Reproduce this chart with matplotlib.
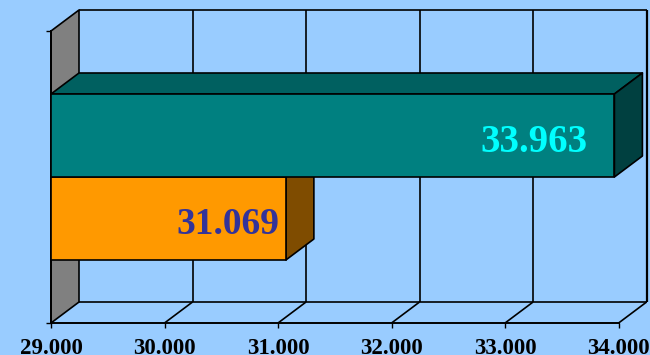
import matplotlib
matplotlib.use("Agg")
import matplotlib.pyplot as plt
from matplotlib.patches import Polygon

# values
values = [31069, 33963]
bar_colors = ["#FF9900", "#008080"]
top_colors = ["#7F4C00", "#006060"]
side_colors = ["#7F4C00", "#004040"]
label_colors = ["#333399", "#00FFFF"]
x_ticks = [29000, 30000, 31000, 32000, 33000, 34000]

plt.rcParams["font.family"] = ["Liberation Serif", "DejaVu Serif"]
W, H = 650, 355
BG = "#99CCFF"

fig = plt.figure(figsize=(W / 100, H / 100), dpi=100, facecolor=BG)
# front plane of the fake 3d box, in pixels: x 51-618.6, y 31-323
ax = fig.add_axes([51 / W, (H - 323) / H, 567.6 / W, 292 / H], facecolor="none")
ax.set_xlim(x_ticks[0], x_ticks[-1])
ax.set_ylim(0, 1)

# depth of the box in data units
dx = 28 / 567.6 * (x_ticks[-1] - x_ticks[0])
dy = 21 / 292
x0, x1 = x_ticks[0], x_ticks[-1]
lw = 1.2


def poly(pts, fc, z, lw=lw):
    ax.add_patch(Polygon(pts, closed=True, facecolor=fc, edgecolor="black",
                         linewidth=lw, zorder=z, clip_on=False, joinstyle="round"))


def line(xs, ys, z=1, lw=lw):
    ax.plot(xs, ys, color="black", linewidth=lw, zorder=z, clip_on=False,
            solid_capstyle="butt")


# left wall
poly([(x0, 0), (x0 + dx, dy), (x0 + dx, 1 + dy), (x0, 1)], "#808080", 1.5)

# back wall, gridlines and floor
line([x0 + dx, x1 + dx], [1 + dy, 1 + dy])
line([x0 + dx, x1 + dx], [dy, dy])
for t in x_ticks[1:]:
    line([t + dx, t + dx], [dy, 1 + dy], lw=1.2 if t < x1 else 1.6)
    line([t, t + dx], [0, dy])

# bars, orange at the bottom, teal on top
bar_h = 83 / 292
centers = [(323 - 218.5) / 292, (323 - 135.5) / 292]
label_shift = [-60, -234]
label_y = [(323 - 234) / 292, (323 - 151.6) / 292]
label_size = [27, 28]
for i, v in enumerate(values):
    lo, hi = centers[i] - bar_h / 2, centers[i] + bar_h / 2
    z = 3 + i
    poly([(x0, hi), (x0 + dx, hi + dy), (v + dx, hi + dy), (v, hi)], top_colors[i], z)
    poly([(v, lo), (v + dx, lo + dy), (v + dx, hi + dy), (v, hi)], side_colors[i], z)
    ax.barh(centers[i], v - x0, left=x0, height=bar_h, color=bar_colors[i],
            edgecolor="black", linewidth=lw, zorder=z + 0.1)
    ax.text(v + label_shift[i], label_y[i], f"{v:,}".replace(",", "."),
            ha="right", va="baseline", color=label_colors[i], fontsize=label_size[i],
            fontweight="bold", zorder=6)

ax.set_xticks(x_ticks)
ax.set_xticklabels([f"{t:,}".replace(",", ".") for t in x_ticks],
                   fontsize=16.5, fontweight="bold", color="black")
ax.set_yticks([0, 1])
ax.set_yticklabels([])
ax.tick_params(axis="both", length=3.6, width=1.0, color="black", pad=7)
ax.tick_params(axis="y", pad=0)
for s in ["top", "right"]:
    ax.spines[s].set_visible(False)
for s in ["left", "bottom"]:
    ax.spines[s].set_linewidth(1.4)
    ax.spines[s].set_zorder(2.5)

fig.savefig("out.png", dpi=100, facecolor=BG)
